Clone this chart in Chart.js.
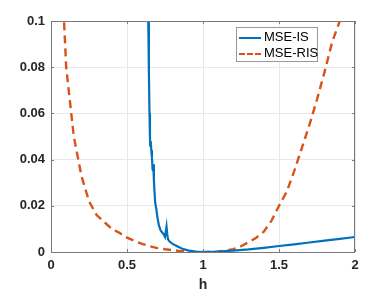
<!DOCTYPE html>
<html>
<head>
<meta charset="utf-8">
<script src="https://cdn.jsdelivr.net/npm/chart.js"></script>
<style>
  html, body { margin: 0; padding: 0; background: #fff; }
  #wrap { position: relative; width: 392px; height: 294px; }
  #legend {
    position: absolute; left: 236px; top: 27px; width: 80px; height: 33px;
    border: 1px solid #9a9a9a; background: #fff;
    font: 13px "Liberation Sans", Arial, sans-serif; color: #000;
  }
  .row { position: absolute; left: 2px; height: 16px; line-height: 16px; white-space: nowrap; }
  .row .smp { display: inline-block; width: 22px; height: 0; vertical-align: middle; margin-right: 3px; }
  .solid { border-top: 2px solid #0072BD; }
  .dash { border-top: 2px dashed #D95319; }
</style>
</head>
<body>
<div id="wrap">
  <canvas id="chart" width="392" height="294"></canvas>
  <div id="legend">
    <div class="row" style="top:1px"><span class="smp solid"></span>MSE-IS</div>
    <div class="row" style="top:17px"><span class="smp dash"></span>MSE-RIS</div>
  </div>
</div>
<script>
// --- Data ---
const isH = [0.636, 0.64, 0.644, 0.648, 0.651, 0.653, 0.656, 0.66, 0.664, 0.668, 0.671, 0.673, 0.677, 0.681,
  0.686, 0.692, 0.7, 0.71, 0.72, 0.73, 0.74, 0.75, 0.76, 0.765, 0.77, 0.78, 0.8, 0.83, 0.86, 0.9, 0.95, 1.0,
  1.1, 1.2, 1.3, 1.4, 1.5, 1.6, 1.7, 1.8, 1.9, 2.0];
const isMse = [0.13, 0.1, 0.078, 0.06, 0.05, 0.046, 0.048, 0.044, 0.041, 0.036, 0.035, 0.038, 0.031, 0.026,
  0.021, 0.019, 0.015, 0.0115, 0.0095, 0.0085, 0.0078, 0.0065, 0.011, 0.0075, 0.0055, 0.0045, 0.0035, 0.0025,
  0.0015, 0.0007, 0.0002, 0, 0.0002, 0.0006, 0.0011, 0.0018, 0.0026, 0.0033, 0.0041, 0.0049, 0.0057, 0.0065];

const risH = [0.05, 0.1, 0.15, 0.2, 0.25, 0.3, 0.35, 0.4, 0.45, 0.5, 0.55, 0.6, 0.65, 0.7, 0.75, 0.8, 0.85,
  0.9, 0.95, 1.0, 1.05, 1.1, 1.15, 1.2, 1.25, 1.3, 1.35, 1.4, 1.45, 1.5, 1.55, 1.6, 1.65, 1.7, 1.75, 1.8,
  1.85, 1.9, 1.95, 2.0];
const risMse = [0.15, 0.08, 0.05, 0.033, 0.022, 0.016, 0.013, 0.010, 0.0083, 0.0062, 0.0048, 0.0035, 0.0025,
  0.0017, 0.0012, 0.0008, 0.0004, 0.0002, 0.00005, 0, 0.00005, 0.0002, 0.0006, 0.0012, 0.0025, 0.0042, 0.0062,
  0.0088, 0.0135, 0.02, 0.026, 0.035, 0.045, 0.055, 0.066, 0.078, 0.091, 0.1, 0.115, 0.13];

const xTicks = [0, 0.5, 1, 1.5, 2];
const xTickLabels = ['0', '0.5', '1', '1.5', '2'];
const yTicks = [0, 0.02, 0.04, 0.06, 0.08, 0.1];
const yTickLabels = ['0', '0.02', '0.04', '0.06', '0.08', '0.1'];

const toPoints = (xs, ys) => xs.map((x, i) => ({ x: x, y: ys[i] }));

// box + inward ticks like MATLAB
const boxPlugin = {
  id: 'box',
  afterDraw(chart) {
    const { ctx, chartArea: a, scales } = chart;
    ctx.save();
    ctx.strokeStyle = '#7a7a7a';
    ctx.lineWidth = 1;
    ctx.strokeRect(a.left + 0.5, a.top + 0.5, a.right - a.left - 1, a.bottom - a.top);
    ctx.beginPath();
    xTicks.forEach(v => {
      const px = Math.round(scales.x.getPixelForValue(v)) + 0.5;
      ctx.moveTo(px, a.bottom); ctx.lineTo(px, a.bottom - 3);
      ctx.moveTo(px, a.top); ctx.lineTo(px, a.top + 3);
    });
    yTicks.forEach(v => {
      const py = Math.round(scales.y.getPixelForValue(v)) + 0.5;
      ctx.moveTo(a.left, py); ctx.lineTo(a.left + 3, py);
      ctx.moveTo(a.right, py); ctx.lineTo(a.right - 3, py);
    });
    ctx.stroke();
    ctx.restore();
  }
};

const tickFont = { family: '"Liberation Sans", Arial, sans-serif', size: 13, weight: 'bold' };

new Chart(document.getElementById('chart'), {
  type: 'line',
  data: {
    datasets: [{
      label: 'MSE-IS',
      data: toPoints(isH, isMse),
      borderColor: '#0072BD',
      borderWidth: 2.2,
      pointRadius: 0,
      tension: 0
    }, {
      label: 'MSE-RIS',
      data: toPoints(risH, risMse),
      borderColor: '#D95319',
      borderWidth: 2.4,
      borderDash: [8, 5],
      pointRadius: 0,
      tension: 0
    }]
  },
  options: {
    responsive: false,
    animation: false,
    layout: { padding: { top: 21, right: 37, left: 0, bottom: 0 } },
    plugins: { legend: { display: false }, tooltip: { enabled: false } },
    scales: {
      x: {
        type: 'linear',
        min: 0, max: 2,
        afterBuildTicks: s => { s.ticks = xTicks.map(v => ({ value: v })); },
        afterFit: s => { s.height = 42; },
        ticks: {
          color: '#262626', font: tickFont, padding: 6, maxRotation: 0,
          callback: (v, i) => xTickLabels[i]
        },
        grid: { color: '#e8e8e8', drawTicks: false },
        border: { display: false },
        title: {
          display: true, text: 'h', color: '#262626',
          font: { family: '"Liberation Sans", Arial, sans-serif', size: 14, weight: 'bold' },
          padding: { top: 1, bottom: 0 }
        }
      },
      y: {
        type: 'linear',
        min: 0, max: 0.1,
        afterBuildTicks: s => { s.ticks = yTicks.map(v => ({ value: v })); },
        afterFit: s => { s.width = 51; },
        ticks: {
          color: '#262626', font: tickFont, padding: 6,
          callback: (v, i) => yTickLabels[i]
        },
        grid: { color: '#e8e8e8', drawTicks: false },
        border: { display: false }
      }
    }
  },
  plugins: [boxPlugin]
});
</script>
</body>
</html>
